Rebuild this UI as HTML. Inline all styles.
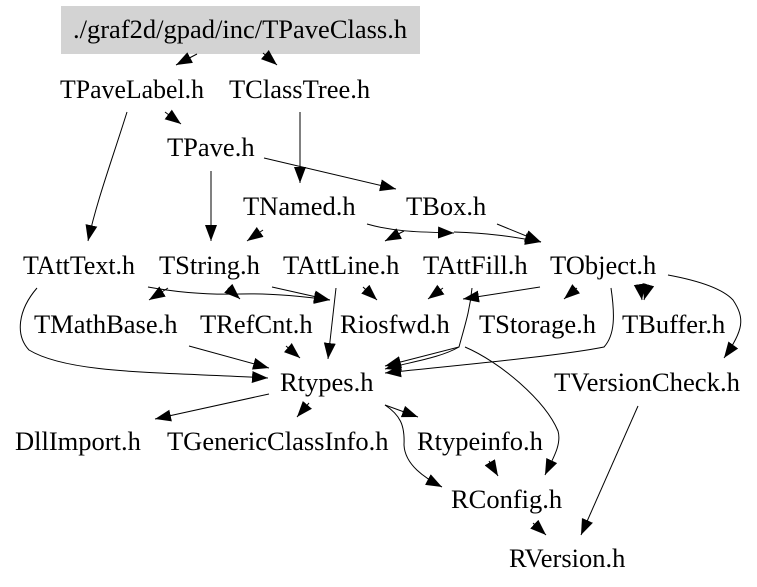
<!DOCTYPE html>
<html>
<head>
<meta charset="utf-8">
<style>
html,body{margin:0;padding:0;background:#fff}
svg{display:block}
text{font-family:"Liberation Serif",serif;font-size:26.5px;fill:#000}
path{fill:none;stroke:#000;stroke-width:1}
</style>
</head>
<body>
<svg width="757" height="587" viewBox="0 0 757 587" xmlns="http://www.w3.org/2000/svg">
<defs>
<marker id="a" markerUnits="userSpaceOnUse" markerWidth="18" markerHeight="14" refX="16" refY="6" orient="auto">
<polygon points="0,0 16,6 0,12" fill="#000"/>
</marker>
</defs>
<rect x="61" y="6" width="359" height="48" fill="#d3d3d3"/>
<g>
<text x="73" y="38">./graf2d/gpad/inc/TPaveClass.h</text>
<text x="60" y="98" textLength="144" lengthAdjust="spacingAndGlyphs">TPaveLabel.h</text>
<text x="229" y="98">TClassTree.h</text>
<text x="167" y="156">TPave.h</text>
<text x="243" y="215">TNamed.h</text>
<text x="406" y="215">TBox.h</text>
<text x="23" y="274" textLength="112" lengthAdjust="spacingAndGlyphs">TAttText.h</text>
<text x="159" y="274">TString.h</text>
<text x="283" y="274">TAttLine.h</text>
<text x="423" y="274">TAttFill.h</text>
<text x="550" y="274">TObject.h</text>
<text x="34" y="333">TMathBase.h</text>
<text x="200" y="333">TRefCnt.h</text>
<text x="340" y="333">Riosfwd.h</text>
<text x="479" y="333">TStorage.h</text>
<text x="622" y="333">TBuffer.h</text>
<text x="280" y="391">Rtypes.h</text>
<text x="554" y="391" textLength="186" lengthAdjust="spacingAndGlyphs">TVersionCheck.h</text>
<text x="15" y="450">DllImport.h</text>
<text x="167" y="450">TGenericClassInfo.h</text>
<text x="417" y="450">Rtypeinfo.h</text>
<text x="451" y="508">RConfig.h</text>
<text x="509" y="567">RVersion.h</text>
</g>
<g>
<path marker-end="url(#a)" d="M197,54 L176,65"/>
<path marker-end="url(#a)" d="M263,53 L277,65"/>
<path marker-end="url(#a)" d="M165,112 L181,124"/>
<path marker-end="url(#a)" d="M127,112 C112,160 97,200 88,241"/>
<path marker-end="url(#a)" d="M300,112 L300,183"/>
<path marker-end="url(#a)" d="M211,171 L211,241"/>
<path marker-end="url(#a)" d="M264,158 L396,189"/>
<path marker-end="url(#a)" d="M263,230 L247,241"/>
<path marker-end="url(#a)" d="M404,231 L385,241"/>
<path marker-end="url(#a)" d="M367,224 C395,232 420,232 454,233"/>
<path marker-end="url(#a)" d="M454,232 C490,233 515,237 541,242"/>
<path marker-end="url(#a)" d="M497,224 L541,242"/>
<path marker-end="url(#a)" d="M443,288 L428,299"/>
<path marker-end="url(#a)" d="M540,287 L463,299"/>
<path marker-end="url(#a)" d="M577,288 L564,299"/>
<path marker-end="url(#a)" d="M640,286 L642,300"/>
<path marker-end="url(#a)" d="M648,286 L644,300"/>
<path marker-end="url(#a)" d="M668,275 C695,280 722,288 733,300 C745,318 744,330 724,358"/>
<path marker-end="url(#a)" d="M611,288 C615,315 615,335 604,347 C560,356 450,366 385,373"/>
<path marker-end="url(#a)" d="M472,288 C470,310 465,325 459,347 L385,366"/>
<path marker-end="url(#a)" d="M459,347 C440,358 410,362 385,369"/>
<path marker-end="url(#a)" d="M465,347 C500,362 545,400 558,431 C562,445 552,460 545,475"/>
<path marker-end="url(#a)" d="M336,288 L328,359"/>
<path marker-end="url(#a)" d="M363,287 L377,300"/>
<path marker-end="url(#a)" d="M37,288 C18,310 15,335 29,350 C70,375 170,372 268,378"/>
<path marker-end="url(#a)" d="M168,288 L149,300"/>
<path d="M148,287 C175,292 205,295 240,294"/>
<path marker-end="url(#a)" d="M228,288 L240,299"/>
<path marker-end="url(#a)" d="M240,294 C270,293 300,296 330,300"/>
<path marker-end="url(#a)" d="M272,287 L330,300"/>
<path marker-end="url(#a)" d="M189,346 L269,368"/>
<path marker-end="url(#a)" d="M286,346 L300,358"/>
<path marker-end="url(#a)" d="M269,394 L155,419"/>
<path marker-end="url(#a)" d="M309,403 L297,417"/>
<path marker-end="url(#a)" d="M385,405 L418,417"/>
<path marker-end="url(#a)" d="M385,405 C400,415 405,425 404,445 C405,465 425,478 442,487"/>
<path marker-end="url(#a)" d="M489,461 L498,476"/>
<path marker-end="url(#a)" d="M533,523 L546,535"/>
<path marker-end="url(#a)" d="M638,406 L581,535"/>
</g>
</svg>
</body>
</html>
